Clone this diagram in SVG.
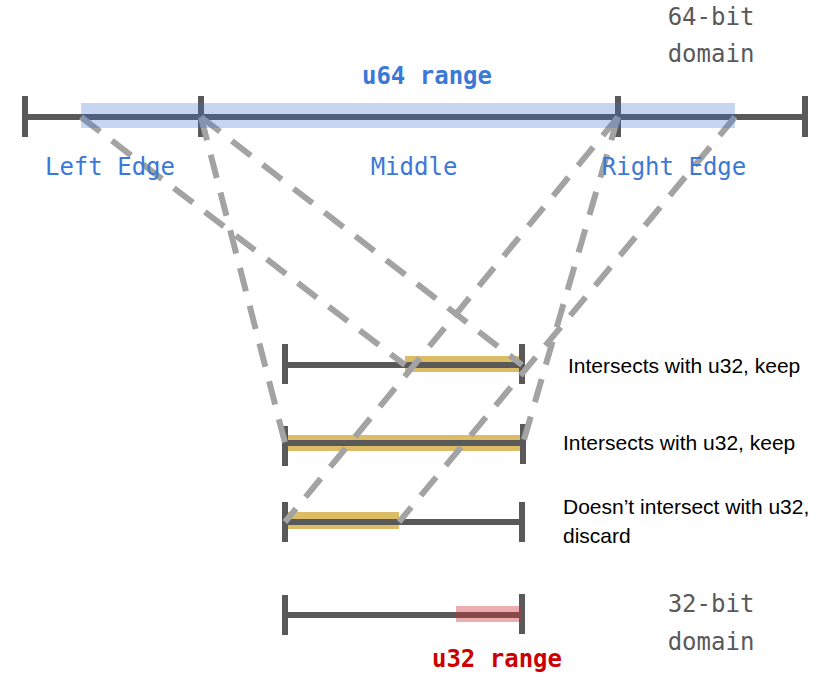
<svg xmlns="http://www.w3.org/2000/svg" width="819" height="676" viewBox="0 0 819 676">
  <style>
    .track { stroke: #595959; stroke-width: 6; fill: none; }
    .tick { stroke: #595959; stroke-width: 6; fill: none; }
    .map { stroke: #a3a3a3; stroke-width: 6; fill: none; stroke-dasharray: 24 15; }
    .mono { font-family: "DejaVu Sans Mono", "Liberation Mono", monospace; font-size: 24px; }
    .blue { fill: #3c78d8; }
    .gray { fill: #595959; }
    .red { fill: #cc0000; font-weight: bold; }
    .note { font-family: "Liberation Sans", Arial, sans-serif; font-size: 21px; fill: #000; }
    .hit { fill: #dcbc64; }
  </style>

  <rect width="819" height="676" fill="#ffffff"/>

  <!-- 64-bit domain -->
  <g id="domain64">
    <line class="track" x1="25" y1="117" x2="805" y2="117"/>
    <line class="tick" x1="25" y1="96" x2="25" y2="137"/>
    <line class="tick" x1="201" y1="96" x2="201" y2="137"/>
    <line class="tick" x1="618" y1="96" x2="618" y2="137"/>
    <line class="tick" x1="805" y1="96" x2="805" y2="137"/>
    <text class="mono gray" x="711" y="25" text-anchor="middle">64-bit</text>
    <text class="mono gray" x="711" y="62" text-anchor="middle">domain</text>
  </g>

  <!-- sub-ranges of the 32-bit domain -->
  <g id="row1">
    <rect class="hit" x="405" y="356" width="117" height="16"/>
    <line class="track" x1="285" y1="365" x2="522" y2="365"/>
    <line class="tick" x1="285" y1="344" x2="285" y2="384"/>
    <line class="tick" x1="522" y1="344" x2="522" y2="384"/>
    <text class="note" x="568" y="373">Intersects with u32, keep</text>
  </g>

  <g id="row2">
    <rect class="hit" x="285" y="435" width="238" height="16"/>
    <line class="track" x1="285" y1="443" x2="523" y2="443"/>
    <line class="tick" x1="285" y1="426" x2="285" y2="466"/>
    <line class="tick" x1="523" y1="424" x2="523" y2="464"/>
    <text class="note" x="563" y="450">Intersects with u32, keep</text>
  </g>

  <g id="row3">
    <rect class="hit" x="285" y="512" width="114" height="17"/>
    <line class="track" x1="285" y1="522" x2="522" y2="522"/>
    <line class="tick" x1="285" y1="502" x2="285" y2="542"/>
    <line class="tick" x1="522" y1="502" x2="522" y2="542"/>
    <text class="note" x="563" y="514">Doesn’t intersect with u32,</text>
    <text class="note" x="563" y="543">discard</text>
  </g>

  <!-- mapping of each 64-bit region onto the 32-bit domain -->
  <g id="connectors">
    <line class="map" x1="81" y1="117" x2="405" y2="365"/>
    <line class="map" x1="201" y1="117" x2="522" y2="365"/>
    <line class="map" x1="201" y1="117" x2="285" y2="443"/>
    <line class="map" x1="618" y1="117" x2="523" y2="443"/>
    <line class="map" x1="618" y1="117" x2="285" y2="522"/>
    <line class="map" x1="735" y1="117" x2="399" y2="522"/>
  </g>

  <g id="u64range">
    <rect x="81" y="103" width="654" height="25" fill="#3c72d2" fill-opacity="0.29"/>
    <text class="mono blue" x="427" y="84" text-anchor="middle" font-weight="bold">u64 range</text>
    <text class="mono blue" x="110" y="175" text-anchor="middle">Left Edge</text>
    <text class="mono blue" x="414" y="175" text-anchor="middle">Middle</text>
    <text class="mono blue" x="674" y="175" text-anchor="middle">Right Edge</text>
  </g>

  <!-- 32-bit domain -->
  <g id="domain32">
    <line class="track" x1="285" y1="615" x2="522" y2="615"/>
    <line class="tick" x1="285" y1="595" x2="285" y2="635"/>
    <line class="tick" x1="522" y1="594" x2="522" y2="634"/>
    <rect x="456" y="606" width="66" height="16" fill="#cc3333" fill-opacity="0.4"/>
    <text class="mono red" x="497" y="667" text-anchor="middle">u32 range</text>
    <text class="mono gray" x="711" y="612" text-anchor="middle">32-bit</text>
    <text class="mono gray" x="711" y="650" text-anchor="middle">domain</text>
  </g>
</svg>
